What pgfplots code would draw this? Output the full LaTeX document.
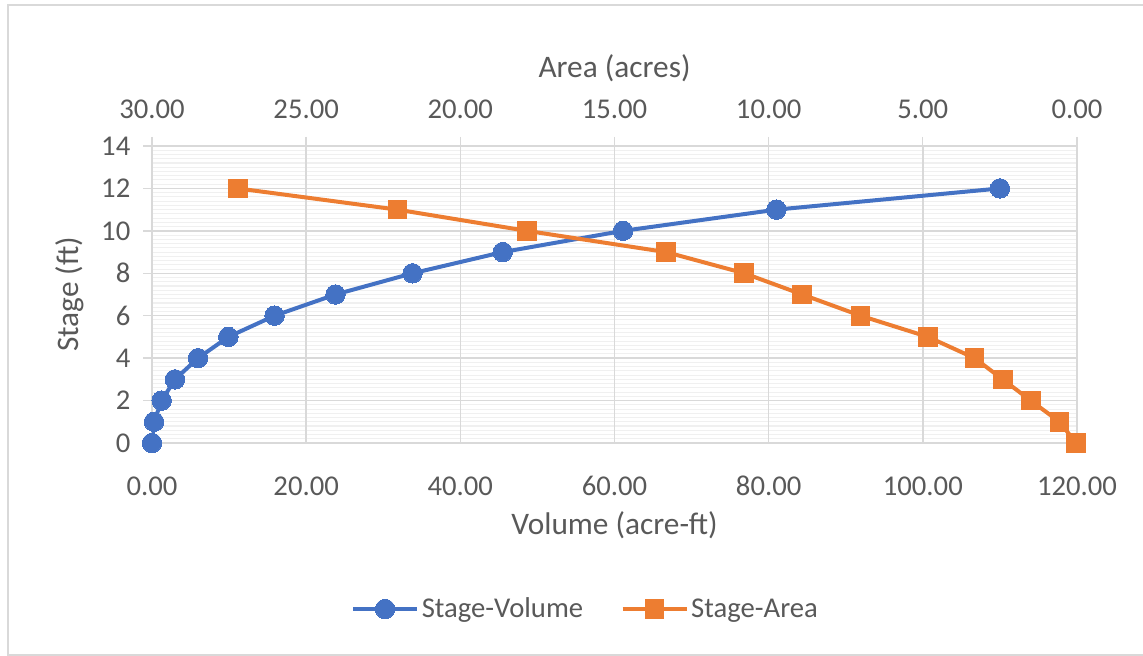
\documentclass[border=0pt]{standalone}
\usepackage{fontspec}
\setmainfont{Carlito}
\usepackage{pgfplots}
\pgfplotsset{compat=1.18}

\definecolor{volblue}{HTML}{4472C4}
\definecolor{areaorange}{HTML}{ED7D31}
\definecolor{gridgray}{HTML}{D9D9D9}
\definecolor{minorgray}{HTML}{F0F0F0}
\definecolor{labelgray}{HTML}{595959}

\newcommand{\chartfont}{\fontsize{21.5}{26}\selectfont}
\newcommand{\titlefont}{\fontsize{23.5}{28}\selectfont}

\pgfplotsset{
  chartbase/.style={
    scale only axis, width=693.75pt, height=222.75pt,
    at={(0,0)}, anchor=south west,
    ymin=0, ymax=14,
    font=\chartfont,
    tick label style={text=labelgray, font=\chartfont},
    label style={text=labelgray, font=\titlefont},
    axis line style={draw=gridgray, line width=1pt},
    tick align=outside, major tick length=6.75pt, minor tick length=0pt,
    every tick/.style={draw=gridgray, line width=1pt},
    /pgf/number format/assume math mode=true,
  },
  twodec/.style={
    /pgf/number format/fixed,
    /pgf/number format/fixed zerofill,
    /pgf/number format/precision=2,
  },
}

\begin{document}
\begin{tikzpicture}
\useasboundingbox (-114pt,-159.75pt) rectangle (743.25pt,332.25pt);
\draw[gridgray, line width=1.5pt] (-108pt,-159pt) rectangle (746pt,328.5pt);

% Volume axis (bottom) with stage on the left
\begin{axis}[
  chartbase,
  xmin=0, xmax=120,
  xtick={0,20,...,120},
  ytick={0,2,...,14},
  minor y tick num=9,
  axis x line*=bottom, axis y line*=left,
  xtick style={draw=none},
  ymajorgrids, yminorgrids,
  major grid style={draw=gridgray, line width=1pt},
  minor y grid style={draw=minorgray, line width=0.8pt},
  % vertical grid drawn as extra ticks so it sits above the minor grid
  extra x ticks={0,20,...,120},
  extra x tick labels={},
  extra x tick style={grid=major, major grid style={draw=gridgray, line width=1pt}},
  twodec,
  xticklabel style={anchor=center, yshift=-25.5pt},
  yticklabel style={anchor=east, xshift=-6pt},
  yticklabel={\pgfmathprintnumber[int detect]{\tick}},
  xlabel={Volume (acre-ft)},
  ylabel={Stage (ft)},
  xlabel style={at={(axis description cs:0.5,-0.276)}, anchor=center},
  ylabel style={at={(axis description cs:-0.0886,0.5)}, anchor=center},
  legend style={at={(axis description cs:0.469,-0.559)}, anchor=center,
    draw=none, fill=none, font=\chartfont, text=labelgray,
    legend columns=2,
    /tikz/every even column/.append style={column sep=26pt}},
  legend image code/.code={
    \draw[mark repeat=2, mark phase=2, #1]
      plot coordinates {(0pt,0pt) (24pt,0pt) (48pt,0pt)};},
]
\addplot[volblue, line width=3pt, mark=*, mark size=7.3pt,
  mark options={fill=volblue, draw=volblue, line width=0pt}]
  coordinates {
    (0,0) (0.26,1) (1.26,2) (2.98,3) (5.97,4) (9.9,5) (15.9,6)
    (23.8,7) (33.8,8) (45.5,9) (61.1,10) (81.0,11) (110.0,12)
  };
\addlegendentry{Stage-Volume}
\addlegendimage{areaorange, line width=3pt, mark=square*, mark size=7pt,
  mark options={fill=areaorange, draw=areaorange, line width=0pt}}
\addlegendentry{Stage-Area}
\end{axis}

% Area axis (top, reversed)
\begin{axis}[
  chartbase,
  xmin=0, xmax=30, x dir=reverse,
  xtick={0,5,...,30},
  axis x line*=top, axis y line=none,
  twodec,
  xticklabel style={anchor=center, yshift=21pt},
  xlabel={Area (acres)},
  xlabel style={at={(axis description cs:0.5,1.263)}, anchor=center},
]
\addplot[areaorange, line width=3pt, mark=square*, mark size=7pt,
  mark options={fill=areaorange, draw=areaorange, line width=0pt}]
  coordinates {
    (0.03,0) (0.57,1) (1.50,2) (2.41,3) (3.32,4) (4.83,5) (7.02,6)
    (8.91,7) (10.79,8) (13.33,9) (17.84,10) (22.04,11) (27.22,12)
  };
\end{axis}
\end{tikzpicture}
\end{document}
